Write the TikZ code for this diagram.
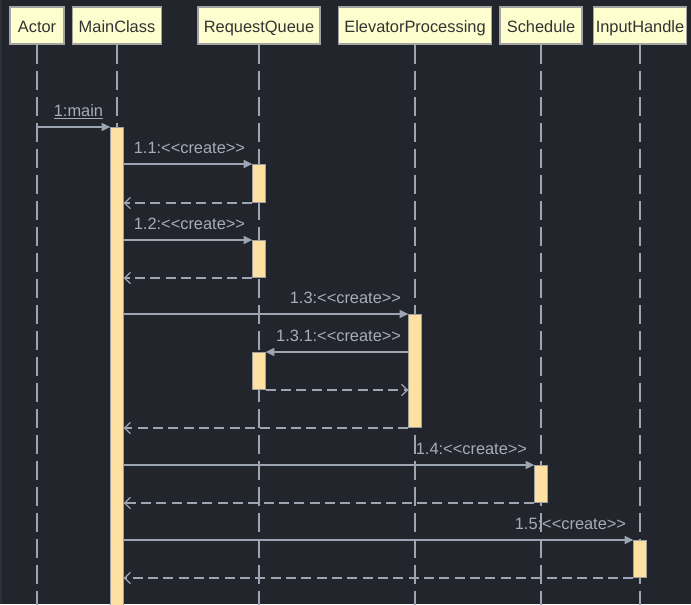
\documentclass[tikz,border=0pt]{standalone}
\usepackage{fontspec}
\setmainfont{Liberation Sans}
\usetikzlibrary{arrows.meta, calc, positioning}

\definecolor{bgcol}{HTML}{22252B}
\definecolor{edgecol}{HTML}{2D3038}
\definecolor{linecol}{HTML}{9DA5B3}
\definecolor{txtcol}{HTML}{A6ADB8}
\definecolor{headfill}{HTML}{FEFECE}
\definecolor{headline}{HTML}{A3A3A3}
\definecolor{headtxt}{HTML}{333333}
\definecolor{actfill}{HTML}{FFE0A3}
\definecolor{actline}{HTML}{A0A0A0}

\newcommand{\createmsg}{<{}<create>{}>}

\tikzset{
  head/.style={draw=headline, fill=headfill, text=headtxt, line width=0.9pt,
    minimum width=#1*0.75pt, minimum height=27.75pt, inner sep=0pt,
    text height=13pt, text depth=2pt},
  lifeline/.style={draw=linecol, line width=1pt, dash pattern=on 14.25pt off 5.25pt},
  actbar/.style={draw=actline, fill=actfill, line width=0.75pt, anchor=north,
    minimum width=9.25pt, minimum height=#1*0.75pt, inner sep=0pt},
  call/.style={draw=linecol, line width=0.9pt, -{Triangle[length=6.5pt,width=6pt]}},
  ret/.style={call, dash pattern=on 7.5pt off 4pt, -{Straight Barb[length=4.5pt,width=8.5pt]}},
  msg/.style={text=txtcol, inner sep=0pt, anchor=base east}
}

\begin{document}
\begin{tikzpicture}[x=0.75pt, y=-0.75pt, font=\fontsize{12.3pt}{14pt}\selectfont]
  \useasboundingbox (0,0) rectangle (691,604);
  \fill[bgcol] (0,0) rectangle (691,604);
  \fill[edgecol] (0,0) rectangle (2,604);
  \coordinate (bot) at (0,606);

  % participants
  \node[head=54]  (hActor) at (37,25.5)  {Actor};
  \node[head=89]  (hMain)  at (117,25.5) {MainClass};
  \node[head=122] (hQueue) at (259,25.5) {RequestQueue};
  \node[head=153] (hElev)  at (415,25.5) {ElevatorProcessing};
  \node[head=82]  (hSched) at (541,25.5) {Schedule};
  \node[head=93]  (hInput) at (640,25.5) {InputHandle};

  \foreach \h in {hActor,hMain,hQueue,hElev,hSched,hInput}
    \draw[lifeline] (\h.south) -- (\h.south |- bot);

  % activations
  \node[actbar=482] (aMain)  at (117,127) {};
  \node[actbar=38]  (aQueue1) at (259,164) {};
  \node[actbar=37]  (aQueue2) at (259,240) {};
  \node[actbar=113] (aElev)   at (415,314) {};
  \node[actbar=37]  (aQueue3) at (259,352) {};
  \node[actbar=37]  (aSched)  at (541,465) {};
  \node[actbar=37]  (aInput)  at (640,540) {};

  % messages
  \draw[call] (hActor.south |- aMain.north) -- (aMain.north west);
  \node[msg] (lMain) at ($(aMain.north west)+(-7,-11)$) {\underline{1:main}};

  \draw[call] (aMain.east |- aQueue1.north) -- (aQueue1.north west);
  \node[msg] (lQueue1) at ($(aQueue1.north west)+(-7,-11)$) {1.1:\createmsg};
  \draw[ret] (aQueue1.south west) -- (aMain.east |- aQueue1.south);

  \draw[call] (aMain.east |- aQueue2.north) -- (aQueue2.north west);
  \node[msg] (lQueue2) at ($(aQueue2.north west)+(-7,-11)$) {1.2:\createmsg};
  \draw[ret] (aQueue2.south west) -- (aMain.east |- aQueue2.south);

  \draw[call] (aMain.east |- aElev.north) -- (aElev.north west);
  \node[msg] (lElev) at ($(aElev.north west)+(-7,-11)$) {1.3:\createmsg};

  \draw[call] (aElev.west |- aQueue3.north) -- (aQueue3.north east);
  \node[msg] (lQueue3) at ($(aElev.west |- aQueue3.north)+(-7,-11)$) {1.3.1:\createmsg};
  \draw[ret] (aQueue3.south east) -- (aElev.west |- aQueue3.south);

  \draw[ret] (aElev.south west) -- (aMain.east |- aElev.south);

  \draw[call] (aMain.east |- aSched.north) -- (aSched.north west);
  \node[msg] (lSched) at ($(aSched.north west)+(-7,-11)$) {1.4:\createmsg};
  \draw[ret] (aSched.south west) -- (aMain.east |- aSched.south);

  \draw[call] (aMain.east |- aInput.north) -- (aInput.north west);
  \node[msg] (lInput) at ($(aInput.north west)+(-7,-11)$) {1.5:\createmsg};
  \draw[ret] (aInput.south west) -- (aMain.east |- aInput.south);
\end{tikzpicture}
\end{document}
